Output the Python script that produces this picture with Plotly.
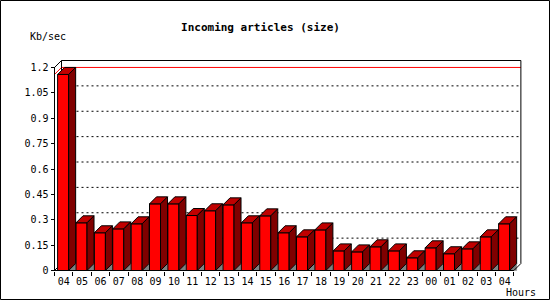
import plotly.graph_objects as go

hours = ["04", "05", "06", "07", "08", "09", "10", "11", "12", "13", "14", "15", "16",
         "17", "18", "19", "20", "21", "22", "23", "00", "01", "02", "03", "04"]
values = [1.159, 0.282, 0.223, 0.246, 0.276, 0.394, 0.394, 0.325, 0.353, 0.388, 0.282,
          0.323, 0.223, 0.199, 0.240, 0.116, 0.110, 0.140, 0.116, 0.075, 0.134, 0.099,
          0.128, 0.199, 0.276]
y_ticks = [0, 0.15, 0.3, 0.45, 0.6, 0.75, 0.9, 1.05, 1.2]
y_tick_text = ["0", "0.15", "0.3", "0.45", "0.6", "0.75", "0.9", "1.05", "1.2"]

N = len(values)
YMAX = 1.2

# pixel geometry
SX = 18.375            # px per hour slot
SY = 203 / 1.2         # px per Kb/sec
X0PX, Y0PX = 54.5, 270.5   # pixel position of origin (front)
DX = 7 / SX            # depth in slot units
DY = 7 / SY            # depth in value units
B0, B1 = 0.17, 0.77    # front face within slot

# plot area (pixels) - a little larger than the drawn box
L, R, T, BOT = 48, 528, 52, 276
PW, PH = R - L, BOT - T
XR = [(L - X0PX) / SX, (R - X0PX) / SX]
YR = [(Y0PX - BOT) / SY, (Y0PX - T) / SY]

FRONT = "#ff0000"
TOP = "#c00000"
SIDE = "#800000"
GRAY = "#808080"


def poly_xy(polys):
    xs, ys = [], []
    for p in polys:
        for (x, y) in p:
            xs.append(x); ys.append(y)
        xs.append(p[0][0]); ys.append(p[0][1])
        xs.append(None); ys.append(None)
    return xs, ys


def poly_trace(polys, color, lc="black", lw=1):
    xs, ys = poly_xy(polys)
    return go.Scatter(x=xs, y=ys, mode="lines", fill="toself", fillcolor=color,
                      line=dict(color=lc, width=lw), hoverinfo="skip",
                      showlegend=False)


def line_trace(xs, ys, color="black", dash=None):
    return go.Scatter(x=xs, y=ys, mode="lines", line=dict(color=color, width=1, dash=dash),
                      hoverinfo="skip", showlegend=False)


fig = go.Figure()

# back walls
fig.add_trace(line_trace([DX, DX, N + DX, N + DX], [DY, YMAX + DY, YMAX + DY, DY]))
fig.add_trace(line_trace([0, DX], [YMAX, YMAX + DY]))
fig.add_trace(line_trace([0, DX], [0, DY]))
# grid lines on back wall
gx, gy = [], []
for v in y_ticks[1:-1]:
    gx += [DX, N + DX, None]
    gy += [v + DY, v + DY, None]
fig.add_trace(line_trace(gx, gy, dash="2px,3px"))

# max line (red) on the back wall, drawn as a shape beneath the bars
vmax = max(values)
max_path = "M {} {} L {} {} L {} {}".format(0, vmax, DX, vmax + DY, N + DX, vmax + DY)

shadows, fronts, tops, sides = [], [], [], []
for i, v in enumerate(values):
    a, b = i + B0, i + B1
    shadows.append([(b, 0), (b + DX, DY), (b + DX, 0)])
    fronts.append([(a, 0), (b, 0), (b, v), (a, v)])
    tops.append([(a, v), (b, v), (b + DX, v + DY), (a + DX, v + DY)])
    sides.append([(b, 0), (b + DX, DY), (b + DX, v + DY), (b, v)])

fig.add_trace(poly_trace(shadows, GRAY, lc=GRAY, lw=0.5))
fig.add_trace(poly_trace(fronts, FRONT))
fig.add_trace(poly_trace(tops, TOP))
fig.add_trace(poly_trace(sides, SIDE))

# front axes
fig.add_trace(line_trace([0, 0], [0, YMAX]))
fig.add_trace(line_trace([0, N, N + DX], [0, 0, DY]))

# invisible trace on secondary x axis for tick marks
fig.add_trace(go.Scatter(x=[0], y=[0], xaxis="x2", mode="markers", opacity=0,
                         hoverinfo="skip", showlegend=False))

font = dict(family="DejaVu Sans Mono", size=10, color="black")


def px_x(p):
    return (p - L) / PW


def px_y(p):
    return (BOT - p) / PH


xpos = px_y(Y0PX)
ypos = px_x(X0PX)

fig.update_layout(
    width=550, height=300,
    margin=dict(l=L, r=550 - R, t=T, b=300 - BOT),
    paper_bgcolor="white", plot_bgcolor="white",
    font=font,
    xaxis=dict(range=XR, tickvals=[i + 0.5 for i in range(N)], ticktext=hours,
               ticks="", showgrid=False, zeroline=False, showline=False,
               tickfont=font, ticklabelstandoff=3, anchor="free", position=xpos),
    xaxis2=dict(range=XR, overlaying="x", side="bottom", anchor="free", position=xpos,
                tickvals=list(range(N + 1)), ticks="outside", ticklen=4, tickcolor="black",
                showticklabels=False, showgrid=False, zeroline=False, showline=False),
    yaxis=dict(range=YR, tickvals=y_ticks, ticktext=y_tick_text, anchor="free", position=ypos,
               ticks="outside", ticklen=4, tickcolor="black", showgrid=False,
               zeroline=False, showline=False, tickfont=font),
    title=dict(text="<b>Incoming articles (size)</b>", x=260.5 / 550, xanchor="center",
               y=1 - 27 / 300, yanchor="middle", xref="container", yref="container",
               font=dict(family="DejaVu Sans Mono", size=11, color="black")),
    annotations=[
        dict(text="Kb/sec", xref="paper", yref="paper", x=px_x(28),
             y=px_y(37), xanchor="left", yanchor="middle", showarrow=False, font=font),
        dict(text="Hours", xref="paper", yref="paper", x=px_x(504),
             y=px_y(292.5), xanchor="left", yanchor="middle", showarrow=False, font=font),
    ],
    shapes=[
        dict(type="path", xref="x", yref="y", path=max_path, layer="below",
             line=dict(color="#ff0000", width=1)),
        dict(type="rect", xref="paper", yref="paper",
             x0=px_x(0.5), x1=px_x(549.5), y0=px_y(299.5), y1=px_y(0.5),
             line=dict(color="black", width=1)),
    ],
)

fig.write_html("out.html")
